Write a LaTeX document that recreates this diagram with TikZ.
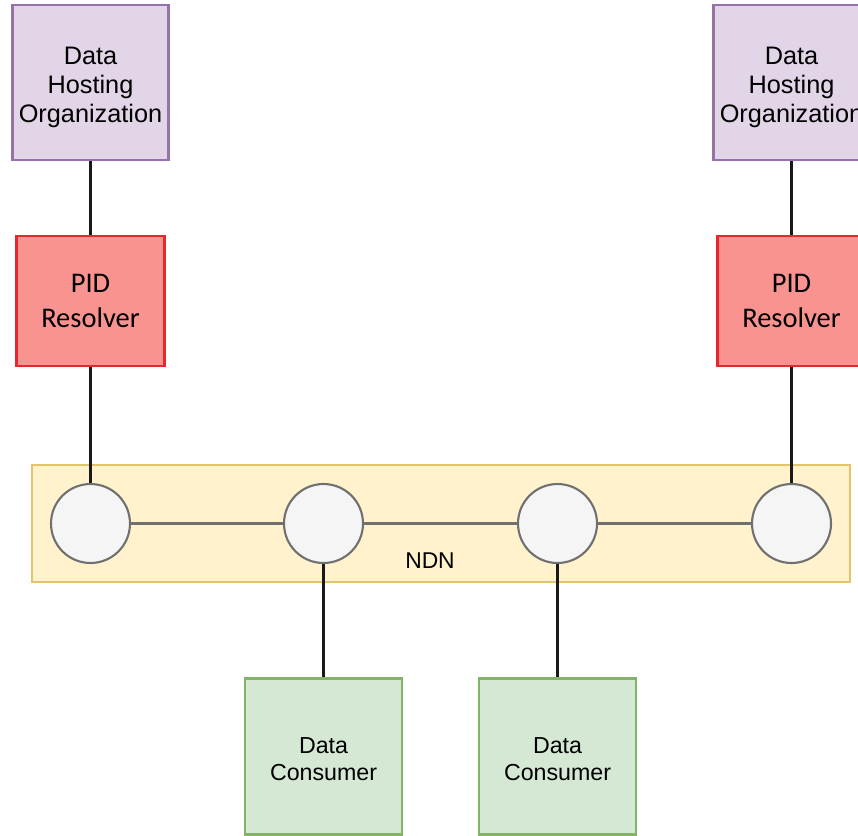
\documentclass[tikz,border=0pt]{standalone}
\usepackage{fontspec}
\setmainfont{Liberation Sans}
\newfontfamily\calibri{Carlito}
\definecolor{hostfill}{HTML}{E1D5E7}
\definecolor{hostline}{HTML}{9673A6}
\definecolor{resfill}{HTML}{F8938F}
\definecolor{resline}{HTML}{E8262B}
\definecolor{ndnfill}{HTML}{FFF2CC}
\definecolor{ndnline}{HTML}{E3C46A}
\definecolor{routerfill}{HTML}{F5F5F5}
\definecolor{routerline}{HTML}{707070}
\definecolor{consfill}{HTML}{D5E8D4}
\definecolor{consline}{HTML}{82B366}
\begin{document}
\begin{tikzpicture} [
        x=0.02cm, y=-0.02cm,
        host/.style={draw=hostline, rectangle, line width=1.2pt, fill=hostfill,
            minimum width=3.12cm, minimum height=3.1cm, inner sep=0pt,
            font=\fontsize{14.4}{16.5}\selectfont},
        resolver/.style={draw=resline, rectangle, line width=1.5pt, fill=resfill,
            minimum width=2.96cm, minimum height=2.6cm, inner sep=0pt,
            font=\calibri\fontsize{16.2}{20.4}\selectfont},
        ndnband/.style={draw=ndnline, rectangle, line width=1.2pt, fill=ndnfill,
            minimum width=16.36cm, minimum height=2.34cm},
        router/.style={draw=routerline, circle, line width=1.2pt, fill=routerfill,
            minimum size=1.58cm, inner sep=0pt},
        consumer/.style={draw=consline, rectangle, line width=1.2pt, fill=consfill,
            minimum width=3.14cm, minimum height=3.12cm, inner sep=0pt,
            font=\fontsize{13.2}{15.3}\selectfont},
        link/.style={line width=1.4pt, black!90},
        meshlink/.style={line width=1.4pt, routerline},
        align=center ]
    \clip (0,0) rectangle (858,835);
    % NDN network
    \node[ndnband] (ndn) at (441,523.5) {};
    \node[font=\fontsize{13}{15}\selectfont] (ndnlabel) at (430,561) {NDN};
    \node[router] (r1) at (90.5,523.5) {};
    \node[router] (r2) at (323.5,523.5) {};
    \node[router] (r3) at (557.5,523.5) {};
    \node[router] (r4) at (791.5,523.5) {};
    % hosting side
    \node[host] (dho1) at (90.5,82.5) {\rule{0pt}{15pt}Data\\Hosting\\Organization};
    \node[host] (dho2) at (791.5,82.5) {\rule{0pt}{15pt}Data\\Hosting\\Organization};
    \node[resolver] (pid1) at (90.5,301) {PID\\Resolver};
    \node[resolver] (pid2) at (791.5,301) {PID\\Resolver};
    % consumers
    \node[consumer] (dc1) at (323.5,756.5) {\rule{0pt}{12pt}Data\\Consumer};
    \node[consumer] (dc2) at (557.5,756.5) {\rule{0pt}{12pt}Data\\Consumer};
    \draw[link] (dho1) -- (pid1);
    \draw[link] (pid1) -- (r1);
    \draw[link] (dho2) -- (pid2);
    \draw[link] (pid2) -- (r4);
    \draw[meshlink] (r1) -- (r2);
    \draw[meshlink] (r2) -- (r3);
    \draw[meshlink] (r3) -- (r4);
    \draw[link] (r2) -- (dc1);
    \draw[link] (r3) -- (dc2);
\end{tikzpicture}
\end{document}
